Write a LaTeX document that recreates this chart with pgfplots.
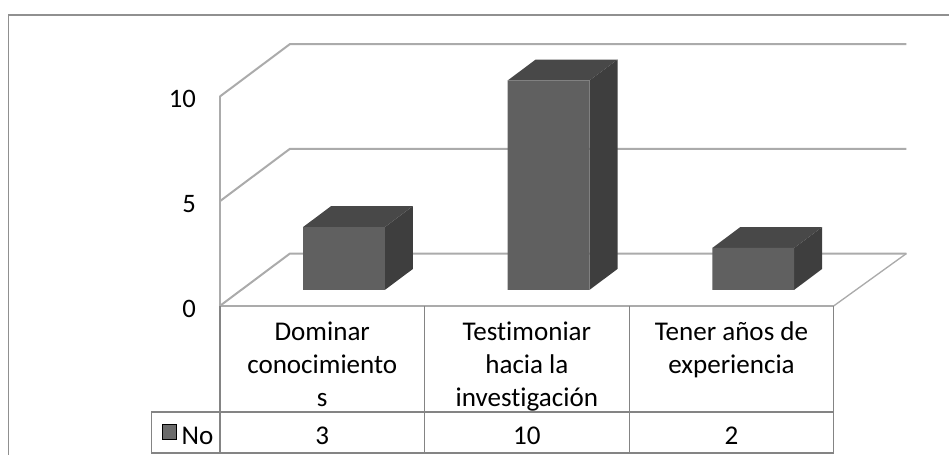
\documentclass[border=0pt]{standalone}
\usepackage{fontspec}
\setmainfont[Ligatures=NoCommon]{Carlito}
\usepackage{pgfplots}
\pgfplotsset{compat=1.18}
\definecolor{front}{HTML}{606060}
\definecolor{side}{HTML}{3E3E3E}
\definecolor{topf}{HTML}{484848}
\definecolor{wall}{HTML}{ABABAB}
\definecolor{tabl}{HTML}{848484}
\tikzset{bar3d/.style={xshift=16.3pt,yshift=12pt,draw=none},
  lab/.style={font=\fontsize{20.3}{24.75}\selectfont, anchor=base}}
\begin{document}
\begin{tikzpicture}[x=1pt,y=1pt]
\begin{axis}[
  scale only axis,
  width=460.5pt, height=157.1pt,
  xmin=-0.5, xmax=2.5, ymin=0, ymax=10,
  clip=false,
  axis line style={draw=none},
  tick style={draw=none},
  xtick={0,1,2},
  xticklabels={Dominar\\conocimiento\\s, Testimoniar\\hacia la\\investigación, Tener años de\\experiencia},
  ytick={0,5,10},
  /pgf/number format/assume math mode=true,
  xticklabel style={font=\fontsize{20.3}{24.75}\selectfont, align=center, anchor=north, yshift=-8.5pt},
  yticklabel style={font=\fontsize{20}{24}\selectfont, anchor=east, xshift=-14.5pt, yshift=-2pt},
]
% back walls and floor
\addplot[wall, line width=1.5pt] coordinates {(-0.5,10) (-0.158,12.5) (2.855,12.5)};
\addplot[wall, line width=1.5pt] coordinates {(-0.5,5) (-0.158,7.5) (2.855,7.5)};
\addplot[wall, line width=1.5pt] coordinates {(-0.5,0) (-0.158,2.5) (2.855,2.5)};
\addplot[wall, line width=1pt] coordinates {(2.855,2.5) (2.5,0)};
\addplot[wall, line width=1pt] coordinates {(-0.5,0) (-0.5,10)};
\addplot[wall, line width=1.5pt] coordinates {(-0.5,0) (2.5,0)};
% side faces
\addplot[bar3d, fill=side] coordinates {(0.2,0) (0.2,3) (0.337,4) (0.337,1)} -- cycle;
\addplot[bar3d, fill=side] coordinates {(1.2,0) (1.2,10) (1.337,11) (1.337,1)} -- cycle;
\addplot[bar3d, fill=side] coordinates {(2.2,0) (2.2,2) (2.337,3) (2.337,1)} -- cycle;
% top faces
\addplot[bar3d, fill=topf] coordinates {(-0.2,3) (0.2,3) (0.337,4) (-0.063,4)} -- cycle;
\addplot[bar3d, fill=topf] coordinates {(0.8,10) (1.2,10) (1.337,11) (0.937,11)} -- cycle;
\addplot[bar3d, fill=topf] coordinates {(1.8,2) (2.2,2) (2.337,3) (1.937,3)} -- cycle;
% front faces
\addplot[ybar, bar width=61.4pt, bar shift=0pt, bar3d, fill=front] coordinates {(0,3) (1,10) (2,2)};
% data table
\addplot[tabl, line width=0.9pt] coordinates {(-0.5,0) (-0.5,-7.03)};
\addplot[tabl, line width=0.9pt] coordinates {(0.5,0) (0.5,-7.03)};
\addplot[tabl, line width=0.9pt] coordinates {(1.5,0) (1.5,-7.03)};
\addplot[tabl, line width=0.9pt] coordinates {(2.5,0) (2.5,-7.03)};
\addplot[tabl, line width=0.9pt] coordinates {(-0.836,-5.07) (2.5,-5.07)};
\addplot[tabl, line width=0.9pt] coordinates {(-0.836,-7.03) (2.5,-7.03)};
\addplot[tabl, line width=0.9pt] coordinates {(-0.836,-5.07) (-0.836,-7.03)};
\addplot[only marks, mark=square*, mark size=5.5pt, mark options={fill=black!58, draw=none}] coordinates {(-0.747,-6)};
\node[lab] at (axis cs:-0.61,-6.6) {No};
\node[lab] at (axis cs:0,-6.6) {3};
\node[lab] at (axis cs:1,-6.6) {10};
\node[lab] at (axis cs:2,-6.6) {2};
% outer frame
\addplot[tabl!90!white, line width=0.9pt] coordinates {(-1.533,-7.11) (-1.533,13.89) (3.065,13.89)};
\path[use as bounding box] (axis cs:-1.575,-7.112) rectangle (axis cs:3.065,14.606);
\end{axis}
\end{tikzpicture}
\end{document}
